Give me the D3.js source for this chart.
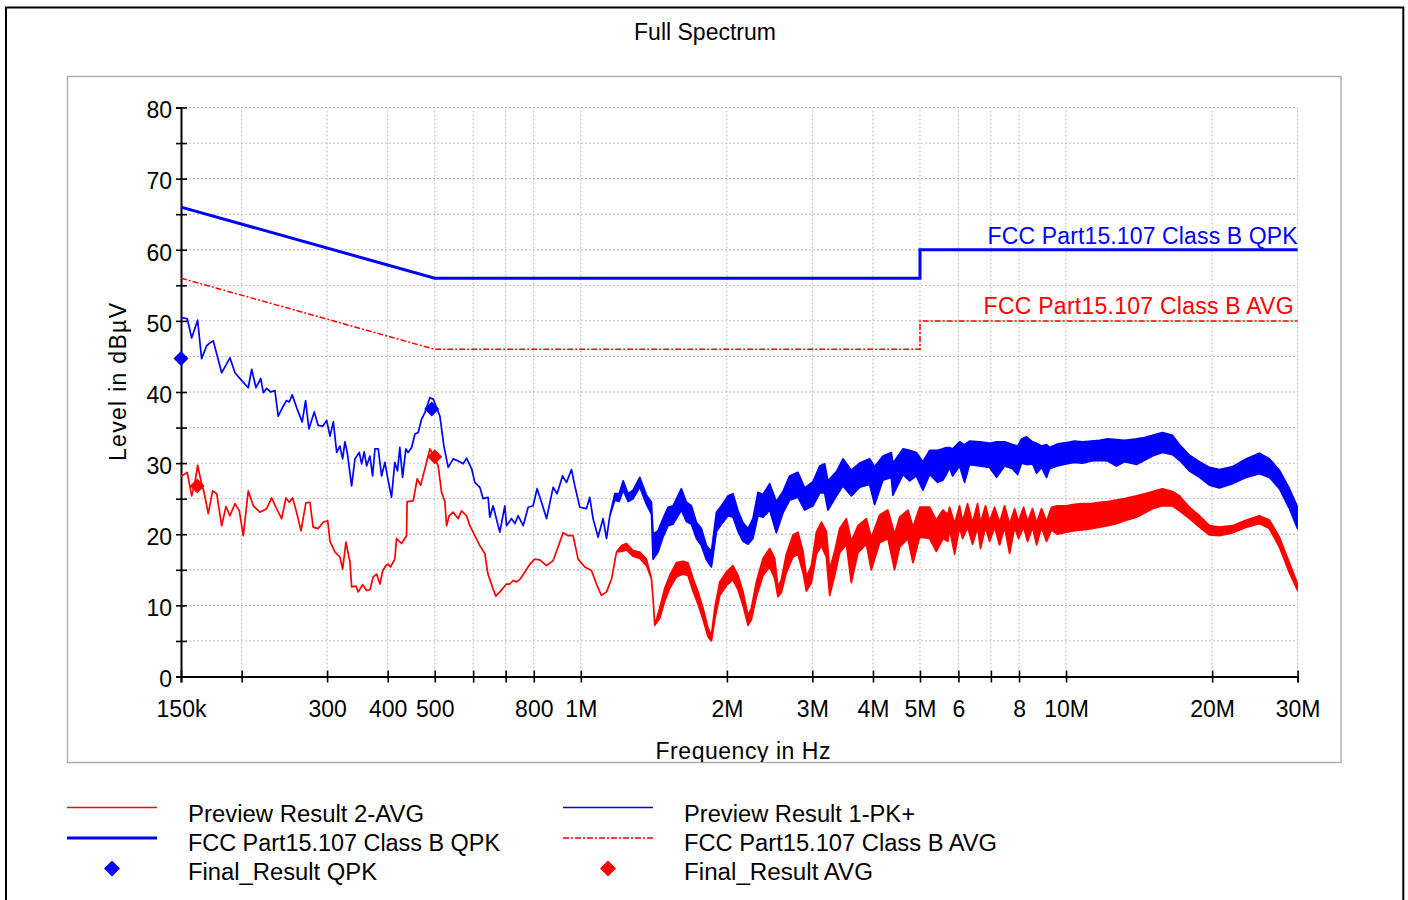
<!DOCTYPE html>
<html>
<head>
<meta charset="utf-8">
<script src="https://cdn.jsdelivr.net/npm/d3@7"></script>
<style>
  body { margin: 0; background: #fff; }
  svg text { font-family: "Liberation Sans", Arial, sans-serif; }
</style>
</head>
<body>
<div id="chart"></div>
<script>
// chart size
var svgWidth = 1408;
var svgHeight = 900;

// frequency ticks (MHz) and their labels
var xTickValues = [0.15, 0.2, 0.3, 0.4, 0.5, 0.6, 0.7, 0.8, 1, 2, 3, 4, 5, 6, 7, 8, 10, 20, 30];
var xTickLabels = ["150k", "", "300", "400", "500", "", "", "800", "1M", "2M", "3M", "4M", "5M", "6", "", "8", "10M", "20M", "30M"];
var yTickValues = [0, 5, 10, 15, 20, 25, 30, 35, 40, 45, 50, 55, 60, 65, 70, 75, 80];

// limit lines [MHz, dBuV]
var qpkLimit = [[0.15, 66], [0.5, 56], [5, 56], [5, 60], [30, 60]];
var avgLimit = [[0.15, 56], [0.5, 46], [5, 46], [5, 50], [30, 50]];

// final measurement points [MHz, dBuV]
var qpkFinal = [[0.150, 44.7], [0.493, 37.6]];
var avgFinal = [[0.162, 26.8], [0.500, 30.9]];

// preview scan 1 PK+ : [MHz, high, low]  (low omitted = single value)
var pkTrace = [
  [0.150, 50.5], [0.1545, 50.3], [0.1578, 47.6], [0.1623, 50.1], [0.1654, 44.7], [0.1694, 46.5],
  [0.1721, 46.9], [0.1748, 47.2], [0.1819, 42.7], [0.1892, 44.8], [0.1938, 42.7], [0.2001, 41.6],
  [0.2064, 40.6], [0.2098, 43.2], [0.2141, 40.6], [0.2190, 41.9], [0.2217, 39.9], [0.2252, 40.5],
  [0.2295, 40.0], [0.2342, 40.2], [0.2379, 36.6], [0.2436, 38.0], [0.2476, 38.8], [0.2507, 38.6],
  [0.2542, 39.6], [0.2603, 37.6], [0.2666, 35.8], [0.2709, 38.8], [0.2752, 34.8], [0.2823, 37.2],
  [0.2876, 35.3], [0.2938, 35.2], [0.2994, 36.0], [0.3042, 33.8], [0.3090, 35.8], [0.3140, 31.5],
  [0.3188, 32.4], [0.3230, 30.6], [0.3265, 33.0], [0.3301, 31.5], [0.3371, 26.8], [0.3424, 30.6],
  [0.3495, 31.5], [0.3535, 29.9], [0.3578, 31.6], [0.3619, 29.6], [0.3676, 31.0], [0.3724, 28.2],
  [0.3765, 32.0], [0.3824, 32.0], [0.3886, 28.2], [0.3947, 30.1], [0.3997, 28.0], [0.4073, 25.2],
  [0.4137, 30.1], [0.4191, 28.9], [0.4237, 32.2], [0.4292, 28.0], [0.4360, 32.0], [0.4407, 31.5],
  [0.4481, 32.2], [0.4551, 34.1], [0.4623, 34.3], [0.4698, 36.2], [0.4772, 37.1], [0.4887, 39.2],
  [0.4964, 39.0], [0.5044, 37.8], [0.5124, 36.6], [0.5222, 32.4], [0.5330, 29.4], [0.5458, 30.6],
  [0.5589, 30.3], [0.5721, 29.9], [0.5815, 30.7], [0.5957, 29.2], [0.6048, 27.3], [0.6193, 26.6],
  [0.6291, 25.0], [0.6441, 25.2], [0.6493, 22.4], [0.6595, 24.0], [0.6809, 20.3], [0.6973, 24.0],
  [0.7029, 21.2], [0.7199, 22.2], [0.7313, 21.5], [0.7428, 22.6], [0.7607, 21.2], [0.7789, 23.8],
  [0.7974, 24.0], [0.8127, 26.4], [0.8299, 24.5], [0.8498, 22.2], [0.8769, 26.6], [0.8936, 25.7],
  [0.9168, 28.2], [0.9344, 27.3], [0.9568, 29.1], [0.9720, 26.8], [0.9952, 23.8], [1.0271, 23.6],
  [1.0433, 25.2], [1.0598, 22.2], [1.0853, 19.6], [1.1113, 22.2], [1.1297, 19.4], [1.1476, 22.6],
  [1.1751, 25.7, 24.8], [1.1994, 25.7, 24.6], [1.2224, 27.5, 26.2], [1.2517, 25.7, 24.6],
  [1.2814, 26.2, 25.0], [1.3228, 28.0, 26.6], [1.3656, 25.5, 24.2], [1.3983, 24.5, 22.8],
  [1.4090, 20.0, 16.5],
  [1.4425, 20.5, 17.5], [1.4772, 22.2, 19.6], [1.5127, 23.8, 21.2], [1.5490, 24.0, 21.4],
  [1.6116, 26.4, 23.4], [1.6503, 24.5, 21.8], [1.6901, 24.0, 21.4], [1.7306, 21.7, 19.4],
  [1.7722, 20.8, 18.4], [1.8153, 18.4, 16.4], [1.8587, 17.6, 15.4], [1.9035, 23.1, 20.4],
  [1.9492, 24.0, 21.4], [2.0105, 25.4, 22.6], [2.0590, 25.7, 22.4], [2.1085, 23.3, 20.4],
  [2.1592, 21.6, 19.0], [2.2111, 20.8, 18.6], [2.2634, 22.2, 19.4], [2.3178, 25.9, 22.6],
  [2.3736, 25.6, 22.4], [2.4505, 27.1, 23.4], [2.5289, 24.6, 20.2], [2.6094, 26.0, 23.0],
  [2.6937, 28.2, 24.8], [2.8020, 28.7, 25.2], [2.8932, 26.5, 23.4], [3.0096, 27.4, 24.0],
  [3.1068, 29.6, 25.8], [3.1803, 29.9, 25.8], [3.2307, 27.5, 23.4], [3.3644, 28.8, 25.4],
  [3.4694, 30.6, 26.8], [3.6097, 29.0, 25.4], [3.7546, 30.0, 26.6], [3.9375, 30.6, 27.0],
  [4.0312, 29.5, 24.2], [4.1931, 31.0, 27.6], [4.3634, 31.5, 28.0], [4.3968, 30.0, 25.5],
  [4.6117, 32.0, 28.4], [4.760, 31.8, 27.5], [4.9143, 31.5, 28.2], [5.0696, 30.2, 26.2],
  [5.2335, 31.8, 28.4], [5.436, 31.8, 27.3], [5.57, 32.0, 27.6], [5.6642, 32.2, 28.4],
  [5.753, 32.2, 29.4], [5.836, 32.0, 28.2], [6.033, 33.0, 29.6], [6.178, 32.6, 27.3],
  [6.325, 33.1, 29.8], [6.633, 33.0, 29.6], [6.955, 32.8, 29.4], [7.192, 33.0, 28.0],
  [7.470, 33.0, 29.6], [7.759, 32.6, 29.2], [7.946, 32.4, 28.4], [8.096, 33.4, 30.0],
  [8.290, 33.7, 29.8], [8.530, 33.0, 29.9], [8.694, 32.8, 28.6], [8.902, 32.4, 29.4],
  [9.114, 32.6, 28.0], [9.245, 32.2, 29.2], [9.602, 32.7, 29.6], [10.019, 32.9, 29.9],
  [10.408, 33.1, 30.1], [10.810, 33.0, 30.0], [11.283, 33.1, 30.3], [11.721, 33.2, 30.4],
  [12.175, 33.4, 30.3], [12.704, 33.3, 29.6], [13.196, 33.2, 30.2], [13.970, 33.4, 29.8],
  [14.507, 33.6, 30.4], [15.069, 33.9, 31.0], [15.801, 34.3, 31.5], [16.564, 33.9, 31.2],
  [17.124, 32.6, 30.4], [17.960, 31.1, 28.9], [18.834, 30.2, 28.0], [19.749, 29.4, 26.9],
  [20.704, 29.1, 26.5], [22.024, 29.5, 27.1], [23.533, 30.6, 28.0], [25.030, 31.4, 28.5],
  [26.241, 30.6, 28.0], [27.516, 29.0, 26.4], [28.858, 26.4, 23.6], [30.0, 23.8, 20.8]
];

// preview scan 2 AVG : [MHz, high, low]
var avgTrace = [
  [0.150, 28.1], [0.1545, 28.7], [0.1578, 25.4], [0.1603, 27.3], [0.1623, 29.7], [0.1654, 27.1],
  [0.1673, 25.9], [0.1707, 22.9], [0.1743, 26.1], [0.1777, 25.7], [0.1819, 21.2], [0.1857, 23.9],
  [0.1892, 22.6], [0.1938, 24.3], [0.1978, 23.3], [0.2016, 19.8], [0.2064, 26.1], [0.2114, 24.0],
  [0.2182, 23.1], [0.2252, 23.6], [0.2306, 25.1], [0.2361, 23.6], [0.2418, 22.2], [0.2468, 25.1],
  [0.2507, 24.5], [0.2547, 25.1], [0.2596, 23.1], [0.2651, 20.5], [0.2713, 24.4], [0.2765, 24.5],
  [0.2809, 21.0], [0.2876, 20.8], [0.2946, 21.7], [0.3009, 21.9], [0.3042, 19.0], [0.3115, 17.5],
  [0.3188, 16.8], [0.3230, 15.1], [0.3281, 18.9], [0.3344, 16.1], [0.3371, 12.6], [0.3440, 12.7],
  [0.3478, 11.9], [0.3551, 12.9], [0.3619, 12.1], [0.3676, 12.2], [0.3734, 14.0], [0.3795, 14.4],
  [0.3855, 13.0], [0.3904, 14.8], [0.3966, 15.6], [0.4008, 15.8], [0.4054, 15.4], [0.4137, 16.5],
  [0.4171, 19.4], [0.4271, 18.7], [0.4374, 19.8], [0.4386, 24.6], [0.4514, 24.7], [0.4601, 27.8],
  [0.4676, 26.9], [0.4772, 29.2], [0.4887, 32.0], [0.5007, 30.6], [0.5082, 29.6], [0.5165, 25.9],
  [0.5246, 24.6], [0.5289, 21.2], [0.5355, 22.6], [0.5458, 23.1], [0.5589, 22.2], [0.5677, 23.3],
  [0.5815, 22.6], [0.5906, 21.2], [0.6048, 19.8], [0.6193, 18.4], [0.6341, 17.3], [0.6432, 14.5],
  [0.6595, 12.3], [0.6681, 11.3], [0.6809, 11.9], [0.7029, 13.0], [0.7141, 13.0], [0.7254, 13.5],
  [0.7372, 13.3], [0.7499, 13.7], [0.7668, 14.7], [0.7853, 15.8], [0.8039, 16.5], [0.8232, 16.4],
  [0.8498, 15.6], [0.8769, 16.3], [0.8978, 18.2], [0.9193, 20.2], [0.9415, 19.8], [0.9641, 19.8],
  [0.9873, 16.5], [1.0189, 15.4], [1.0517, 14.9], [1.0770, 13.0], [1.1029, 11.4], [1.1297, 11.9],
  [1.1568, 13.7], [1.1846, 17.5], [1.2131, 18.4, 17.6], [1.2423, 18.7, 17.8], [1.2814, 17.7, 16.9],
  [1.3228, 17.5, 16.6], [1.3656, 16.5, 15.6], [1.3983, 13.7], [1.4090, 10.9], [1.4202, 7.2],
  [1.4542, 9.6, 8.2], [1.4892, 12.4, 10.6], [1.5250, 14.2, 12.4], [1.5742, 16.0, 14.0],
  [1.6239, 16.2, 14.4], [1.6629, 16.0, 14.2], [1.7030, 13.8, 12.0], [1.7437, 11.9, 10.2],
  [1.7861, 9.6, 8.0], [1.8291, 6.8, 5.6], [1.8587, 5.8, 5.0], [1.8882, 9.6, 8.0],
  [1.9335, 13.3, 11.4], [1.9962, 14.7, 12.8], [2.0590, 15.6, 13.6], [2.1085, 14.2, 12.2],
  [2.1592, 11.9, 10.0], [2.2111, 8.6, 7.2], [2.2465, 9.6, 8.0], [2.3005, 13.3, 11.2],
  [2.3736, 16.6, 14.2], [2.4505, 18.0, 15.4], [2.5092, 16.6, 13.8], [2.5481, 12.6, 11.2],
  [2.5897, 13.6, 11.8], [2.6518, 17.2, 14.6], [2.7363, 19.9, 16.8], [2.8020, 20.3, 17.2],
  [2.8701, 17.6, 14.6], [2.9168, 14.0, 12.0], [2.9868, 15.6, 13.2], [3.0586, 20.3, 17.2],
  [3.1319, 21.7, 18.4], [3.2065, 20.4, 16.8], [3.2569, 15.0, 11.4], [3.3354, 17.6, 14.2],
  [3.4154, 20.8, 17.4], [3.5258, 22.2, 18.6], [3.6097, 19.0, 13.2], [3.7246, 21.2, 17.4],
  [3.8761, 22.2, 18.6], [3.9691, 19.5, 15.0], [4.1276, 22.7, 18.8], [4.2937, 23.4, 19.4],
  [4.4323, 20.0, 15.0], [4.540, 22.4, 18.2], [4.7223, 23.4, 19.4], [4.8360, 21.0, 16.0],
  [4.992, 23.8, 19.6], [5.234, 23.8, 19.4], [5.4027, 22.0, 17.6], [5.5746, 23.4, 19.4],
  [5.7073, 22.8, 19.0], [5.753, 23.8, 20.8], [5.892, 21.5, 17.2], [6.033, 24.0, 21.0],
  [6.120, 21.8, 19.4], [6.267, 24.3, 21.0], [6.416, 21.6, 18.6], [6.570, 24.3, 21.0],
  [6.664, 21.6, 18.0], [6.824, 24.0, 21.0], [6.955, 21.8, 19.0], [7.123, 23.8, 21.0],
  [7.295, 21.6, 18.5], [7.470, 24.0, 21.0], [7.649, 21.4, 17.3], [7.833, 23.6, 21.0],
  [7.981, 21.8, 19.4], [8.173, 23.8, 21.0], [8.330, 21.8, 19.0], [8.530, 23.6, 21.0],
  [8.694, 21.6, 18.5], [8.902, 23.6, 21.0], [9.114, 21.8, 19.0], [9.333, 23.8, 20.6],
  [9.602, 24.0, 20.0], [10.019, 24.0, 20.3], [10.408, 24.2, 20.5], [10.810, 24.3, 20.6],
  [11.283, 24.3, 20.8], [11.721, 24.5, 21.0], [12.175, 24.6, 21.2], [12.704, 24.8, 21.5],
  [13.196, 25.0, 21.9], [13.970, 25.4, 22.4], [14.507, 25.7, 23.0], [15.069, 26.0, 23.6],
  [15.801, 26.4, 24.0], [16.564, 26.0, 24.0], [17.124, 25.4, 23.3], [17.960, 23.8, 22.2],
  [18.834, 22.6, 21.0], [19.749, 21.2, 19.9], [20.704, 21.0, 19.8], [22.024, 21.2, 20.2],
  [23.533, 22.0, 21.0], [25.030, 22.6, 21.5], [26.241, 22.0, 20.8], [27.516, 19.6, 18.2],
  [28.858, 16.0, 14.6], [30.0, 13.0, 12.1]
];

var legendLabels = ["Preview Result 2-AVG", "Preview Result 1-PK+", "FCC Part15.107 Class B QPK",
                    "FCC Part15.107 Class B AVG", "Final_Result QPK", "Final_Result AVG"];

var blue = "#0000ff";
var red = "#ff0000";
var font = "23px";

var svg = d3.select("#chart").append("svg")
    .attr("width", svgWidth)
    .attr("height", svgHeight);

// outer frame and inner panel
svg.append("rect").attr("x", 6).attr("y", 7.5).attr("width", 1397.3).attr("height", 1000)
    .attr("fill", "none").attr("stroke", "#000").attr("stroke-width", 2);
svg.append("rect").attr("x", 67.5).attr("y", 76.5).attr("width", 1273.5).attr("height", 686)
    .attr("fill", "none").attr("stroke", "#b0b0b0").attr("stroke-width", 1.5);

svg.append("text").attr("x", 705).attr("y", 39.5).attr("text-anchor", "middle")
    .style("font-size", font).text("Full Spectrum");

// scales
var xScale = d3.scaleLog().domain([0.15, 30]).range([181, 1297.6]);
var yScale = d3.scaleLinear().domain([0, 80]).range([676.5, 107.5]);

var defs = svg.append("defs");
defs.append("clipPath").attr("id", "plotClip").append("rect")
    .attr("x", 181).attr("y", 100).attr("width", 1117).attr("height", 577);
defs.append("clipPath").attr("id", "panelClip").append("rect")
    .attr("x", 68).attr("y", 77).attr("width", 1272).attr("height", 685);

// grid
var grid = svg.append("g").attr("stroke", "#bdbdbd").attr("stroke-width", 1)
    .attr("stroke-dasharray", "2,2");
grid.selectAll(".hg").data(yTickValues.filter(function(d) { return d > 0; }))
    .enter().append("line")
    .attr("x1", 181).attr("x2", 1297.6)
    .attr("y1", function(d) { return yScale(d); })
    .attr("y2", function(d) { return yScale(d); });
grid.selectAll(".vg").data(xTickValues.slice(1))
    .enter().append("line")
    .attr("y1", yScale(0)).attr("y2", yScale(80))
    .attr("x1", function(d) { return xScale(d); })
    .attr("x2", function(d) { return xScale(d); });

// axes
var leftAxis = d3.axisLeft(yScale).tickValues(yTickValues).tickSize(5)
    .tickFormat(function(d) { return d % 10 === 0 ? d : ""; });
var bottomAxis = d3.axisBottom(xScale).tickValues(xTickValues).tickSize(6)
    .tickFormat(function(d, i) { return xTickLabels[i]; });

var gy = svg.append("g").attr("transform", "translate(181,0)").call(leftAxis);
gy.select(".domain").attr("stroke-width", 2);
gy.selectAll(".tick line").attr("x1", 6).attr("stroke-width", 1.6);
gy.selectAll(".tick text").attr("x", -9).attr("dy", "0.45em")
    .style("font-size", font).style("font-family", "Liberation Sans, Arial, sans-serif").attr("fill", "#000");

var gx = svg.append("g").attr("transform", "translate(0," + yScale(0) + ")").call(bottomAxis);
gx.select(".domain").attr("stroke-width", 2);
gx.selectAll(".tick line").attr("y1", -6).attr("stroke-width", 1.6);
gx.selectAll(".tick text").attr("y", 40).attr("dy", 0)
    .style("font-size", font).style("font-family", "Liberation Sans, Arial, sans-serif").attr("fill", "#000");

// axis titles
svg.append("text")
    .attr("transform", "rotate(-90)")
    .attr("x", -382).attr("y", 126)
    .attr("text-anchor", "middle")
    .attr("textLength", 158).attr("lengthAdjust", "spacing")
    .style("font-size", font).text("Level in dBµV");
svg.append("g").attr("clip-path", "url(#panelClip)").append("text")
    .attr("x", 743).attr("y", 759).attr("text-anchor", "middle")
    .attr("textLength", 175).attr("lengthAdjust", "spacing")
    .style("font-size", font).text("Frequency in Hz");

// limit lines
var limitLine = d3.line()
    .x(function(d) { return xScale(d[0]); })
    .y(function(d) { return yScale(d[1]); });

var plot = svg.append("g").attr("clip-path", "url(#plotClip)");

// traces as ribbons between high and low values
var traceArea = d3.area()
    .x(function(d) { return xScale(d[0]); })
    .y1(function(d) { return yScale(d[1]); })
    .y0(function(d) { return yScale(d.length > 2 ? d[2] : d[1]); });

plot.append("path").datum(avgTrace).attr("d", traceArea)
    .attr("fill", red).attr("stroke", red).attr("stroke-width", 1.7).attr("stroke-linejoin", "round");
plot.append("path").datum(pkTrace).attr("d", traceArea)
    .attr("fill", blue).attr("stroke", blue).attr("stroke-width", 1.7).attr("stroke-linejoin", "round");

svg.append("path").datum(avgLimit).attr("d", limitLine)
    .attr("fill", "none").attr("stroke", red).attr("stroke-width", 1.5)
    .attr("stroke-dasharray", "6,2,2,2");
svg.append("path").datum(qpkLimit).attr("d", limitLine)
    .attr("fill", "none").attr("stroke", blue).attr("stroke-width", 3);

svg.append("text").attr("x", xScale(30)).attr("y", yScale(60) - 6)
    .attr("text-anchor", "end").attr("fill", blue).style("font-size", font)
    .attr("textLength", 310).attr("lengthAdjust", "spacing")
    .text("FCC Part15.107 Class B QPK");
svg.append("text").attr("x", xScale(30) - 4).attr("y", yScale(50) - 7)
    .attr("text-anchor", "end").attr("fill", red).style("font-size", font)
    .attr("textLength", 310).attr("lengthAdjust", "spacing")
    .text("FCC Part15.107 Class B AVG");

// final result markers
var diamond = d3.symbol().type(d3.symbolSquare).size(112);
svg.selectAll(".qpkMark").data(qpkFinal).enter().append("path")
    .attr("d", diamond)
    .attr("transform", function(d) { return "translate(" + xScale(d[0]) + "," + yScale(d[1]) + ") rotate(45)"; })
    .attr("fill", blue);
svg.selectAll(".avgMark").data(avgFinal).enter().append("path")
    .attr("d", diamond)
    .attr("transform", function(d) { return "translate(" + xScale(d[0]) + "," + yScale(d[1]) + ") rotate(45)"; })
    .attr("fill", red);

// legend
var legend = svg.append("g");
var rowY = [807.5, 838, 868.5];
var textY = [821.5, 851, 880];
var colX = [67, 563];

legend.append("line").attr("x1", colX[0]).attr("x2", colX[0] + 90).attr("y1", rowY[0]).attr("y2", rowY[0])
    .attr("stroke", red).attr("stroke-width", 1.5);
legend.append("line").attr("x1", colX[1]).attr("x2", colX[1] + 90).attr("y1", rowY[0]).attr("y2", rowY[0])
    .attr("stroke", blue).attr("stroke-width", 1.5);
legend.append("line").attr("x1", colX[0]).attr("x2", colX[0] + 90).attr("y1", rowY[1]).attr("y2", rowY[1])
    .attr("stroke", blue).attr("stroke-width", 3);
legend.append("line").attr("x1", colX[1]).attr("x2", colX[1] + 90).attr("y1", rowY[1]).attr("y2", rowY[1])
    .attr("stroke", red).attr("stroke-width", 1.5).attr("stroke-dasharray", "6,2,2,2");

var legendDiamond = d3.symbol().type(d3.symbolSquare).size(128);
legend.append("path").attr("d", legendDiamond)
    .attr("transform", "translate(" + (colX[0] + 45) + "," + rowY[2] + ") rotate(45)").attr("fill", blue);
legend.append("path").attr("d", legendDiamond)
    .attr("transform", "translate(" + (colX[1] + 45) + "," + rowY[2] + ") rotate(45)").attr("fill", red);

var legendWidths = [236, 231, 312, 313, 189, 189];
legend.selectAll("text").data(legendLabels).enter().append("text")
    .attr("x", function(d, i) { return i % 2 === 0 ? 188 : 684; })
    .attr("y", function(d, i) { return textY[Math.floor(i / 2)]; })
    .attr("textLength", function(d, i) { return legendWidths[i]; })
    .attr("lengthAdjust", "spacingAndGlyphs")
    .style("font-size", font)
    .text(function(d) { return d; });
</script>
</body>
</html>
